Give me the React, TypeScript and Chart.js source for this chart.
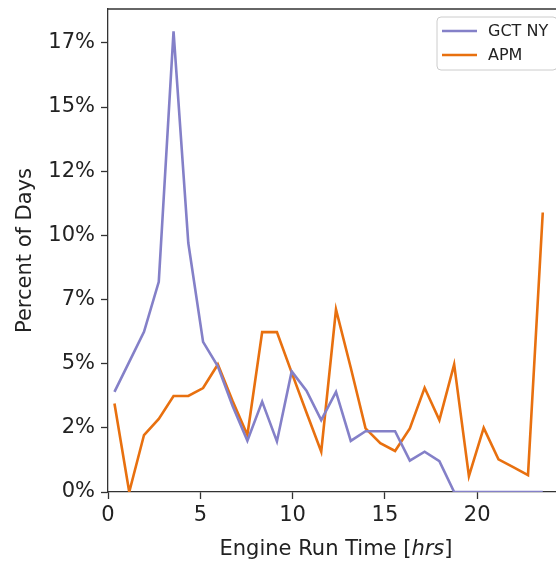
import React, { useEffect, useRef } from "react";
import { Chart, registerables } from "chart.js";

Chart.register(...registerables);

// Bin centers (hours)
const hours = [
  0.35, 1.15, 1.95, 2.75, 3.55, 4.35, 5.15, 5.95, 6.75, 7.55,
  8.35, 9.15, 9.95, 10.75, 11.55, 12.35, 13.15, 13.95, 14.75, 15.55,
  16.35, 17.15, 17.95, 18.75, 19.55, 20.35, 21.15, 21.95, 22.75, 23.55,
];

// Percent of days
const gctNy = [
  3.9, 5.07, 6.24, 8.19, 17.95, 9.7, 5.85, 4.9, 3.35, 2.0,
  3.52, 1.97, 4.7, 3.95, 2.8, 3.9, 1.99, 2.37, 2.37, 2.37,
  1.22, 1.57, 1.2, 0, 0, 0, 0, 0, 0, 0,
];

const apm = [
  3.45, 0, 2.22, 2.85, 3.74, 3.74, 4.05, 4.97, 3.55, 2.22,
  6.23, 6.23, 4.65, 3.1, 1.57, 7.11, 4.84, 2.48, 1.9, 1.6,
  2.48, 4.06, 2.8, 4.97, 0.62, 2.5, 1.27, 0.97, 0.66, 10.89,
];

const seriesNames = ["GCT NY", "APM"];
const seriesColors = ["#8480c8", "#e8700f"];

const xTickStep = 5;
const yTickStep = 2.5;
const xTitleParts = [
  { text: "Engine Run Time [", italic: false },
  { text: "hrs", italic: true },
  { text: "]", italic: false },
];
const yTitle = "Percent of Days";

const FONT = "'DejaVu Sans', sans-serif";
const TEXT = "#222222";
const AXIS = "#333333";

const decorPlugin = {
  id: "decor",
  afterDraw(chart: any) {
    const { ctx, chartArea } = chart;
    ctx.save();
    // top spine
    ctx.strokeStyle = AXIS;
    ctx.lineWidth = 1.3;
    ctx.beginPath();
    ctx.moveTo(chartArea.left, chartArea.top);
    ctx.lineTo(chartArea.right, chartArea.top);
    ctx.stroke();

    // x axis title with italic part
    const size = 21;
    const fonts = xTitleParts.map((p) =>
      (p.italic ? "oblique " : "") + size + "px " + FONT
    );
    let total = 0;
    const widths = xTitleParts.map((p, i) => {
      ctx.font = fonts[i];
      const w = ctx.measureText(p.text).width;
      total += w;
      return w;
    });
    let x = (chartArea.left + chartArea.right) / 2 - total / 2;
    ctx.fillStyle = TEXT;
    ctx.textBaseline = "alphabetic";
    ctx.textAlign = "left";
    xTitleParts.forEach((p, i) => {
      ctx.font = fonts[i];
      ctx.fillText(p.text, x, 546.7);
      x += widths[i];
    });

    // legend
    const lx = 429, ly = 9, lw = 120, lh = 53;
    ctx.beginPath();
    ctx.roundRect(lx, ly, lw, lh, 4);
    ctx.fillStyle = "rgba(255,255,255,0.8)";
    ctx.fill();
    ctx.strokeStyle = "#cccccc";
    ctx.lineWidth = 1;
    ctx.stroke();
    chart.data.datasets.forEach((ds: any, i: number) => {
      const yy = 23 + i * 24;
      ctx.strokeStyle = ds.borderColor;
      ctx.lineWidth = 2.6;
      ctx.beginPath();
      ctx.moveTo(434, yy);
      ctx.lineTo(469, yy);
      ctx.stroke();
      ctx.fillStyle = TEXT;
      ctx.font = "16px " + FONT;
      ctx.textBaseline = "middle";
      ctx.fillText(ds.label, 480, yy + 0.5);
    });
    ctx.restore();
  },
};

export default function App() {
  const ref = useRef<HTMLCanvasElement>(null);

  useEffect(() => {
    document.documentElement.style.overflow = "hidden";
    document.body.style.margin = "0";
    const canvas = ref.current;
    if (!canvas) return;
    const tickFont = { family: FONT, size: 21 };
    const chart = new Chart(canvas, {
      type: "line",
      data: {
        datasets: [gctNy, apm].map((vals, i) => ({
          label: seriesNames[i],
          data: hours.map((h, j) => ({ x: h, y: vals[j] })),
          borderColor: seriesColors[i],
          backgroundColor: seriesColors[i],
          borderWidth: 2.6,
          pointRadius: 0,
          tension: 0,
          fill: false,
        })),
      },
      options: {
        responsive: false,
        animation: false,
        devicePixelRatio: 1,
        layout: { padding: { top: 1, left: 0, right: 0, bottom: 0 }, autoPadding: false },
        plugins: {
          legend: { display: false },
          tooltip: { enabled: false },
        },
        scales: {
          x: {
            type: "linear",
            min: 0,
            max: 24.7,
            ticks: {
              stepSize: xTickStep,
              includeBounds: false,
              padding: 4,
              maxRotation: 0,
              font: tickFont,
              color: TEXT,
            },
            grid: {
              drawOnChartArea: false,
              drawTicks: true,
              tickLength: 7,
              tickColor: AXIS,
              tickWidth: 1.3,
            },
            border: { display: true, color: AXIS, width: 1.3 },
            title: { display: false },
            afterFit: (s: any) => {
              s.height = 69;
              s.paddingLeft = 0;
              s.paddingRight = 0;
            },
          },
          y: {
            type: "linear",
            min: 0,
            max: 18.82,
            ticks: {
              stepSize: yTickStep,
              includeBounds: false,
              padding: 6,
              font: tickFont,
              color: TEXT,
              callback: (v: any) => Math.floor(Number(v) + 1e-9) + "%",
            },
            grid: {
              drawOnChartArea: false,
              drawTicks: true,
              tickLength: 7,
              tickColor: AXIS,
              tickWidth: 1.3,
            },
            border: { display: true, color: AXIS, width: 1.3 },
            title: {
              display: true,
              text: yTitle,
              font: { family: FONT, size: 21 },
              color: TEXT,
              padding: { top: 4.6, bottom: 0 },
            },
            afterFit: (s: any) => {
              s.width = 100;
              s.paddingTop = 0;
              s.paddingBottom = 0;
            },
          },
        },
      } as any,
      plugins: [decorPlugin],
    });
    return () => chart.destroy();
  }, []);

  return (
    <div style={{ width: 556, height: 561, overflow: "hidden", position: "relative" }}>
      <canvas
        ref={ref}
        width={556}
        height={553}
        style={{ display: "block", position: "absolute", left: 8, top: 8 }}
      />
    </div>
  );
}
